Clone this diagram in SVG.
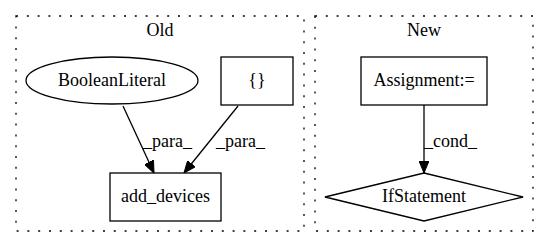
<svg xmlns="http://www.w3.org/2000/svg" width="549" height="248" viewBox="0 0 549 248">
  <style>
    text { font-family: "Liberation Serif", "Times New Roman", serif; font-size: 18px; fill: #000; }
    .mid { text-anchor: middle; }
    .cluster { fill: none; stroke: #000; stroke-width: 1.3; stroke-dasharray: 2 8.8; }
    .node { fill: #fff; stroke: #000; stroke-width: 1.3; }
    .edge { fill: none; stroke: #000; stroke-width: 1.3; }
  </style>
  <defs>
    <marker id="arrow" viewBox="0 0 12 10" refX="12" refY="5" markerWidth="12" markerHeight="10" markerUnits="userSpaceOnUse" orient="auto">
      <path d="M0,0 L12,5 L0,10 Z" fill="#000" stroke="#000"/>
    </marker>
  </defs>
  <rect width="549" height="248" fill="#fff"/>

  <!-- clusters -->
  <g id="cluster-old">
    <rect class="cluster" x="16" y="16" width="288" height="215"/>
    <text class="mid" x="160" y="36">Old</text>
  </g>
  <g id="cluster-new">
    <rect class="cluster" x="315" y="16" width="218" height="215"/>
    <text class="mid" x="424" y="36">New</text>
  </g>

  <!-- connectors -->
  <g id="edges">
    <path class="edge" d="M123,106 L154,173" marker-end="url(#arrow)"/>
    <text x="143" y="147">_para_</text>
    <path class="edge" d="M238,106 L184,173" marker-end="url(#arrow)"/>
    <text x="216" y="147">_para_</text>
    <path class="edge" d="M424,105 L424,173" marker-end="url(#arrow)"/>
    <text x="424" y="147">_cond_</text>
  </g>

  <!-- nodes -->
  <g id="node-booleanliteral">
    <ellipse class="node" cx="112" cy="80.5" rx="86" ry="23.5"/>
    <text class="mid" x="112" y="86">BooleanLiteral</text>
  </g>
  <g id="node-braces">
    <rect class="node" x="221" y="57" width="72" height="48"/>
    <text class="mid" x="257" y="86">{}</text>
  </g>
  <g id="node-add-devices">
    <rect class="node" x="110" y="173" width="111" height="48"/>
    <text class="mid" x="165.5" y="202">add_devices</text>
  </g>
  <g id="node-assignment">
    <rect class="node" x="361" y="57" width="126" height="48"/>
    <text class="mid" x="424" y="86">Assignment:=</text>
  </g>
  <g id="node-ifstatement">
    <polygon class="node" points="424,173 523,197 424,221 325,197"/>
    <text class="mid" x="424" y="202">IfStatement</text>
  </g>
</svg>
